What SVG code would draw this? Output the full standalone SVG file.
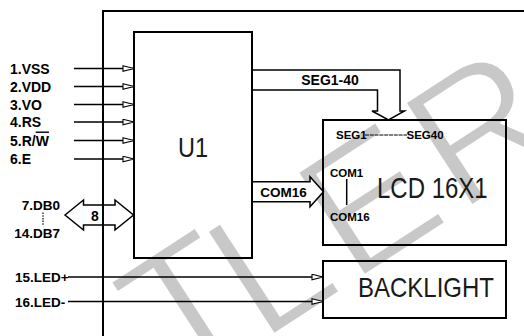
<svg xmlns="http://www.w3.org/2000/svg" width="524" height="336" viewBox="0 0 524 336">
<style>
.lbl{font-family:"Liberation Sans",Arial,sans-serif;font-weight:bold;fill:#000}
.big{font-family:"Liberation Sans",Arial,sans-serif;fill:#1a1a1a}
.ln{stroke:#000;stroke-width:1.5;fill:none}
.box{stroke:#000;stroke-width:2;fill:none}
.wm{font-family:"Liberation Sans",Arial,sans-serif;font-size:180px;fill:#c8c8c8;stroke:#fff;stroke-width:3.5}
</style>
<defs>
<marker id="tri" markerUnits="userSpaceOnUse" markerWidth="14" markerHeight="8" refX="12" refY="3.5" orient="auto">
<path d="M1,0.8 L12,3.5 L1,6.2 Z" fill="#fff" stroke="#000" stroke-width="1.1"/>
</marker>
</defs>
<rect width="524" height="336" fill="#fff"/>
<g id="watermark">
<text class="wm" transform="translate(174,388) rotate(-33)">T</text>
<text class="wm" transform="translate(261.4,343.2) rotate(-33)">L</text>
<text class="wm" transform="translate(352,284.3) rotate(-33)">E</text>
<text class="wm" transform="translate(459.4,214.5) rotate(-33)">R</text>
</g>
<g id="frame">
<path class="box" d="M103,337 V11 H525"/>
</g>
<g id="connectors">
<path class="ln" d="M74,68.5 H134" marker-end="url(#tri)"/>
<path class="ln" d="M74,86.5 H134" marker-end="url(#tri)"/>
<path class="ln" d="M74,104.5 H134" marker-end="url(#tri)"/>
<path class="ln" d="M74,122 H134" marker-end="url(#tri)"/>
<path class="ln" d="M74,140.5 H134" marker-end="url(#tri)"/>
<path class="ln" d="M74,159 H134" marker-end="url(#tri)"/>
<path class="ln" d="M68,277 H323" marker-end="url(#tri)"/>
<path class="ln" d="M68,301.5 H323" marker-end="url(#tri)"/>
<path id="bus8" class="ln" d="M65,215 L83.5,200 L83.5,205 L115,205 L115,200 L133.5,215 L115,230 L115,225 L83.5,225 L83.5,230 Z"/>
<path id="seg-bus" d="M252,70 H400 V111 H404.5 L388.5,120 L372,111 H377.5 V90 H252" fill="#fff" stroke="#000" stroke-width="1.5"/>
<path id="com-bus" d="M252,181.7 H310 V176.7 L323.5,191.7 L310,206.7 V201.7 H252" fill="#fff" stroke="#000" stroke-width="1.5"/>
</g>
<g id="pins">
<text class="lbl" x="10" y="73.5" font-size="14">1.VSS</text>
<text class="lbl" x="10" y="91.5" font-size="14">2.VDD</text>
<text class="lbl" x="10" y="109.5" font-size="14">3.VO</text>
<text class="lbl" x="10" y="127" font-size="14">4.RS</text>
<text class="lbl" x="10" y="145.5" font-size="14">5.R/<tspan text-decoration="overline">W</tspan></text>
<text class="lbl" x="10" y="164" font-size="14">6.E</text>
<text class="lbl" x="60" y="209.5" font-size="13.5" text-anchor="end">7.DB0</text>
<line x1="43" y1="212.5" x2="43" y2="225" stroke="#000" stroke-width="1.2" stroke-dasharray="1.5,1.2"/>
<text class="lbl" x="60" y="237.5" font-size="13.5" text-anchor="end">14.DB7</text>
<text class="lbl" x="95" y="221" font-size="14" text-anchor="middle">8</text>
<text class="lbl" x="15" y="282" font-size="13.5">15.LED+</text>
<text class="lbl" x="15" y="306.5" font-size="13.5">16.LED-</text>
<text class="lbl" x="330" y="85" font-size="14" text-anchor="middle">SEG1-40</text>
<text class="lbl" x="283.5" y="196.5" font-size="13.5" text-anchor="middle">COM16</text>
</g>
<g id="u1">
<rect class="box" x="134" y="32" width="118" height="226"/>
<text class="big" transform="translate(178,157) scale(1,1.2)" font-size="23.5">U1</text>
</g>
<g id="lcd">
<rect class="box" x="323" y="120" width="183" height="125"/>
<text class="lbl" x="336" y="139" font-size="11.5">SEG1</text>
<line x1="365" y1="135" x2="407" y2="135" stroke="#000" stroke-width="1" stroke-dasharray="4,0.8"/>
<text class="lbl" x="406.5" y="139" font-size="11.5">SEG40</text>
<text class="lbl" x="330" y="177" font-size="11.5">COM1</text>
<line x1="346.7" y1="179" x2="346.7" y2="205" stroke="#000" stroke-width="1.5"/>
<text class="lbl" x="330" y="220.5" font-size="11.5">COM16</text>
<text class="big" transform="translate(377,198) scale(1,1.2)" font-size="24">LCD 16X1</text>
</g>
<g id="backlight">
<rect class="box" x="323" y="261" width="183" height="57"/>
<text class="big" transform="translate(358,297) scale(1,1.12)" font-size="24">BACKLIGHT</text>
</g>
</svg>
